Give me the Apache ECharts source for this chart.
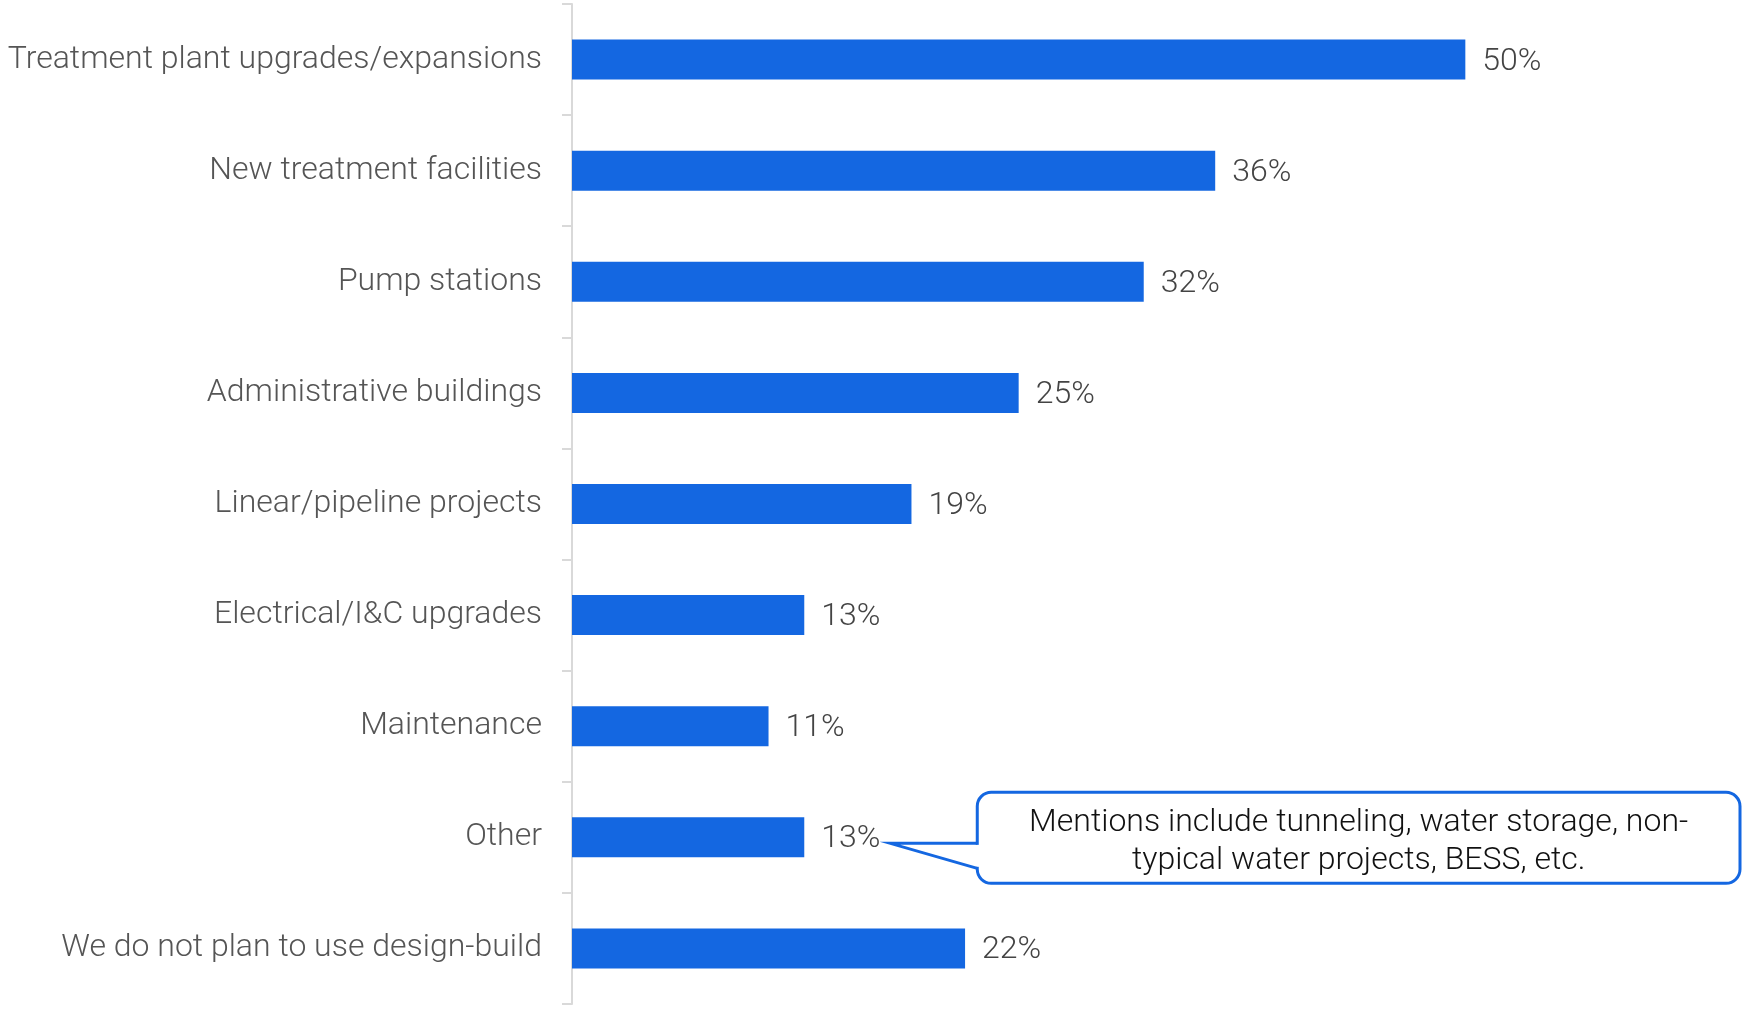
<!DOCTYPE html>
<html><head><meta charset="utf-8">
<script src="https://cdn.jsdelivr.net/npm/echarts@6/dist/echarts.min.js"></script>
<style>html,body{margin:0;padding:0;background:#fff}#c{width:1742px;height:1009px}</style>
</head><body><div id="c"></div>
<script>
const categories = ["Treatment plant upgrades/expansions","New treatment facilities","Pump stations","Administrative buildings","Linear/pipeline projects","Electrical/I&C upgrades","Maintenance","Other","We do not plan to use design-build"];
const values = [50,36,32,25,19,13,11,13,22];
const calloutLines = ["Mentions include tunneling, water storage, non-","typical water projects, BESS, etc."];
const calloutCategory = "Other";

const chart = echarts.init(document.getElementById('c'));
chart.setOption({
  animation:false,
  grid:{left:572,top:4,bottom:5,right:98,containLabel:false},
  xAxis:{type:'value',min:0,max:60,show:false},
  yAxis:{type:'category',data:categories,inverse:true,
    axisLine:{lineStyle:{color:'#d9d9d9',width:2}},
    axisTick:{show:true,length:10,lineStyle:{color:'#d9d9d9',width:2}},
    axisLabel:{margin:30,fontFamily:'Roboto',fontWeight:300,fontSize:32,color:'#555'}},
  series:[{type:'bar',data:values,barWidth:40,itemStyle:{color:'#1467e1'},
    label:{show:true,position:'right',distance:17,offset:[0,2],formatter:'{c}%',fontFamily:'Roboto',fontWeight:300,fontSize:32,color:'#444'}}]
});
const idx = categories.indexOf(calloutCategory);
const p = chart.convertToPixel({gridIndex:0},[values[idx], idx]);
const tipX = p[0]+86, tipY = p[1]+6;
const x0 = tipX+87, x1 = 1740, y0 = tipY-51, y1 = tipY+40;
const pb1 = tipY, pb2 = tipY+25;
chart.setOption({graphic:[
  {type:'rect',shape:{x:x0,y:y0,width:x1-x0,height:y1-y0,r:14},style:{fill:'#fff',stroke:'#1467e1',lineWidth:3},z:10},
  {type:'line',shape:{x1:x0,y1:pb1+1.5,x2:x0,y2:pb2-1.5},style:{stroke:'#fff',lineWidth:5},z:11},
  {type:'polyline',shape:{points:[[x0,pb1],[tipX,tipY],[x0,pb2]]},style:{fill:null,stroke:'#1467e1',lineWidth:3,lineJoin:'miter'},z:12},
  {type:'text',x:(x0+x1)/2,y:tipY-1,style:{text:calloutLines.join('\n'),fontFamily:'Roboto',fontWeight:300,fontSize:32,lineHeight:38,fill:'#111',align:'center',verticalAlign:'middle'},z:13}
]});
</script></body></html>
